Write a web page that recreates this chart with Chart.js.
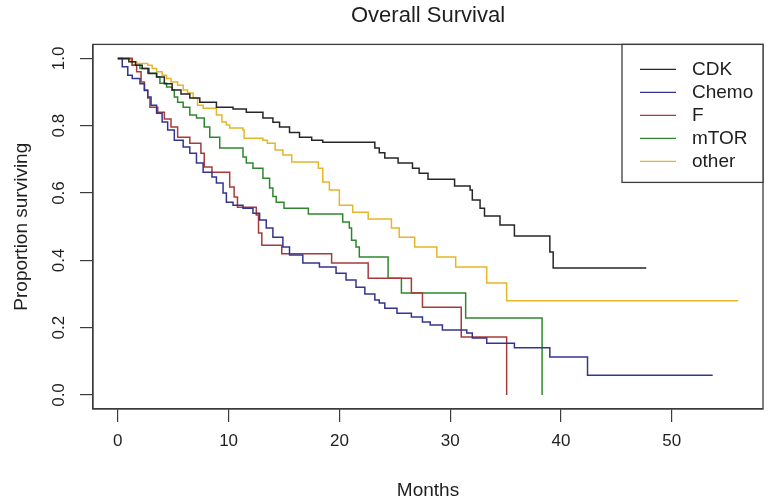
<!DOCTYPE html>
<html>
<head>
<meta charset="utf-8">
<script src="https://cdn.jsdelivr.net/npm/chart.js@4.4.0/dist/chart.umd.min.js"></script>
<style>
  html, body { margin: 0; padding: 0; background: #fff; }
</style>
</head>
<body>
<canvas id="survChart" width="768" height="502"></canvas>
<script>
// Kaplan-Meier steps: month of each drop and the survival after it
const groups = ['CDK', 'Chemo', 'F', 'mTOR', 'other'];

const cdkMonths = [0, 1.0, 1.6, 2.2, 2.8, 3.5, 4.2, 4.9, 5.7, 6.5, 7.4, 8.9, 10.4, 11.6, 13.1, 14.0, 14.6, 15.5, 16.4, 17.5, 18.5,
  23.2, 23.6, 24.1, 25.3, 26.6, 27.2, 28.0, 30.4, 31.8, 32.0, 32.7, 33.1, 34.5, 35.8, 39.0, 39.3, 47.7];
const cdkSurv = [1.0, 0.99, 0.98, 0.97, 0.955, 0.945, 0.925, 0.906, 0.894, 0.882, 0.87, 0.855, 0.85, 0.84, 0.823, 0.81, 0.796, 0.78, 0.766, 0.757, 0.751,
  0.734, 0.72, 0.704, 0.689, 0.674, 0.659, 0.641, 0.621, 0.609, 0.579, 0.555, 0.532, 0.505, 0.472, 0.425, 0.377, 0.377];

const chemoMonths = [0, 0.4, 0.9, 1.3, 2.0, 2.4, 2.7, 3.0, 3.5, 4.0, 4.5, 5.1, 5.9, 6.5, 7.1, 7.7, 8.5, 8.9, 9.5, 9.8, 10.4, 11.3, 12.2, 12.8,
  13.4, 14.0, 14.9, 15.5, 16.7, 18.2, 19.7, 20.6, 21.5, 22.3, 23.2, 23.6, 24.1, 25.2, 26.5, 27.5, 28.2, 29.3, 31.5, 32.0, 33.3, 35.8, 39.0, 42.4, 53.7];
const chemoSurv = [1.0, 0.975, 0.95, 0.94, 0.925, 0.905, 0.885, 0.861, 0.837, 0.811, 0.787, 0.757, 0.737, 0.718, 0.689, 0.662, 0.648, 0.63, 0.6, 0.573, 0.564, 0.555, 0.54, 0.52,
  0.496, 0.469, 0.44, 0.416, 0.392, 0.38, 0.362, 0.342, 0.32, 0.3, 0.282, 0.273, 0.258, 0.243, 0.232, 0.217, 0.208, 0.193, 0.184, 0.169, 0.154, 0.14, 0.113, 0.059, 0.059];

const fMonths = [0, 1.3, 1.7, 2.1, 2.4, 2.7, 2.9, 3.6, 4.2, 4.8, 5.4, 6.5, 7.5, 7.8, 8.5, 10.1, 10.5, 10.8, 12.5, 12.7, 13.0, 14.8, 19.3, 22.6, 26.5, 27.5, 31.0, 35.1];
const fSurv = [1.0, 0.98, 0.96, 0.93, 0.906, 0.882, 0.855, 0.84, 0.82, 0.796, 0.766, 0.748, 0.718, 0.677, 0.662, 0.618, 0.588, 0.558, 0.535, 0.481, 0.445, 0.42, 0.392, 0.347, 0.303, 0.261, 0.172, 0.0];

const mtorMonths = [0, 1.3, 2.0, 2.7, 3.5, 3.8, 4.4, 4.9, 5.1, 5.4, 5.9, 6.5, 7.1, 7.8, 8.3, 9.2, 11.3, 11.6, 12.2, 13.1, 13.7, 14.0, 14.3, 15.0,
  17.2, 20.3, 20.9, 21.1, 21.5, 21.8, 24.4, 25.6, 31.4, 38.3];
const mtorSurv = [1.0, 0.98, 0.97, 0.956, 0.945, 0.926, 0.915, 0.906, 0.885, 0.87, 0.855, 0.832, 0.823, 0.796, 0.766, 0.734, 0.707, 0.689, 0.674, 0.644, 0.615, 0.59, 0.573, 0.555,
  0.538, 0.514, 0.496, 0.46, 0.44, 0.41, 0.347, 0.303, 0.229, 0.0];

const otherMonths = [0, 1.2, 1.7, 2.7, 3.1, 3.5, 4.0, 4.4, 4.8, 5.4, 5.9, 6.3, 6.8, 7.2, 7.7, 8.9, 9.4, 9.8, 10.1, 11.3, 11.4, 13.1, 13.5, 14.2,
  14.9, 15.7, 18.1, 18.5, 19.1, 20.0, 21.2, 22.6, 24.7, 25.4, 26.8, 28.8, 30.5, 33.3, 35.1, 56.0];
const otherSurv = [1.0, 0.99, 0.985, 0.98, 0.97, 0.96, 0.95, 0.94, 0.93, 0.92, 0.906, 0.897, 0.882, 0.861, 0.852, 0.832, 0.811, 0.802, 0.793, 0.787, 0.763, 0.757, 0.748, 0.728,
  0.713, 0.692, 0.674, 0.633, 0.609, 0.564, 0.543, 0.523, 0.496, 0.469, 0.44, 0.41, 0.38, 0.333, 0.28, 0.28];

const xTicks = [0, 10, 20, 30, 40, 50];
const yTicks = [0, 0.2, 0.4, 0.6, 0.8, 1.0];

const groupColors = ['#262626', '#34348f', '#a83a3a', '#2f862f', '#e5b52a'];
const seriesMonths = [cdkMonths, chemoMonths, fMonths, mtorMonths, otherMonths];
const seriesSurv = [cdkSurv, chemoSurv, fSurv, mtorSurv, otherSurv];

const fontFamily = '"Liberation Sans", Arial, sans-serif';
const axisColor = '#3c3c3c';
const textColor = '#1e1e1e';

// R style box round the plot region
const boxPlugin = {
  id: 'box',
  afterDatasetsDraw(chart) {
    const { ctx, chartArea: a } = chart;
    ctx.save();
    ctx.strokeStyle = axisColor;
    ctx.lineWidth = 1.3;
    ctx.strokeRect(a.left, a.top, a.right - a.left, a.bottom - a.top);
    ctx.restore();
  }
};

// boxed legend in the top right corner
const legendPlugin = {
  id: 'boxLegend',
  afterDraw(chart) {
    const { ctx, chartArea: a } = chart;
    const w = 141, h = 138;
    const left = a.right - w, top = a.top;
    ctx.save();
    ctx.fillStyle = '#fff';
    ctx.fillRect(left, top, w, h);
    ctx.strokeStyle = axisColor;
    ctx.lineWidth = 1.3;
    ctx.strokeRect(left, top, w, h);
    ctx.font = '19px ' + fontFamily;
    ctx.textBaseline = 'middle';
    chart.data.datasets.forEach((ds, i) => {
      const y = top + 25 + i * 23;
      ctx.strokeStyle = ds.borderColor;
      ctx.lineWidth = 1.2;
      ctx.beginPath();
      ctx.moveTo(left + 18, y);
      ctx.lineTo(left + 54, y);
      ctx.stroke();
      ctx.fillStyle = textColor;
      ctx.fillText(ds.label, left + 70, y);
    });
    ctx.restore();
  }
};

const datasets = groups.map((g, i) => ({
  label: g,
  data: seriesMonths[i].map((m, j) => ({ x: m, y: seriesSurv[i][j] })),
  borderColor: groupColors[i],
  borderWidth: 1.5,
  pointRadius: 0,
  stepped: 'before',
  fill: false
}));

new Chart(document.getElementById('survChart'), {
  type: 'line',
  data: { datasets },
  options: {
    responsive: false,
    animation: false,
    devicePixelRatio: 1,
    layout: { padding: { left: 0, right: 5, top: 0, bottom: 0 } },
    plugins: {
      legend: { display: false },
      tooltip: { enabled: false },
      title: {
        display: true,
        text: 'Overall Survival',
        fullSize: false,
        color: textColor,
        font: { family: fontFamily, size: 22, weight: 'normal' },
        padding: { top: 3, bottom: 15 }
      }
    },
    scales: {
      x: {
        type: 'linear',
        min: -2.24,
        max: 58.24,
        afterBuildTicks: s => { s.ticks = xTicks.map(v => ({ value: v })); },
        afterFit: s => { s.height = 93; },
        grid: { drawOnChartArea: false, tickLength: 13, color: axisColor, lineWidth: 1.2 },
        border: { color: axisColor, width: 1.2 },
        ticks: { padding: 9, color: textColor, maxRotation: 0, autoSkip: false, font: { family: fontFamily, size: 17 } },
        title: { display: true, text: 'Months', color: textColor, font: { family: fontFamily, size: 19 }, padding: { top: 0, bottom: 0 } }
      },
      y: {
        type: 'linear',
        min: -0.0416,
        max: 1.0416,
        afterBuildTicks: s => { s.ticks = yTicks.map(v => ({ value: v })); },
        afterFit: s => { s.width = 93; },
        grid: { drawOnChartArea: false, tickLength: 13, color: axisColor, lineWidth: 1.2 },
        border: { color: axisColor, width: 1.2 },
        ticks: {
          padding: 9, color: textColor, minRotation: 90, maxRotation: 90, crossAlign: 'center', autoSkip: false,
          font: { family: fontFamily, size: 17 },
          callback: v => v.toFixed(1)
        },
        title: { display: true, text: 'Proportion surviving', color: textColor, font: { family: fontFamily, size: 19 }, padding: { top: 10, bottom: 0 } }
      }
    }
  },
  plugins: [boxPlugin, legendPlugin]
});
</script>
</body>
</html>
